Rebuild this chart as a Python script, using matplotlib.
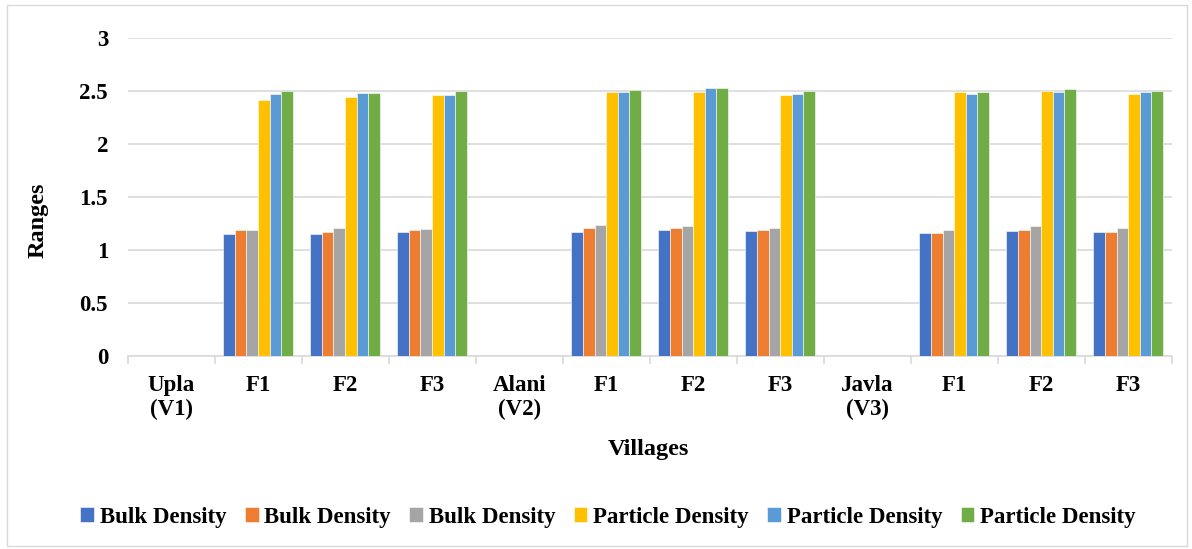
import matplotlib
matplotlib.use("Agg")
import matplotlib.pyplot as plt
import numpy as np
from matplotlib.patches import Rectangle

categories = ["Upla\n(V1)", "F1", "F2", "F3", "Alani\n(V2)", "F1", "F2", "F3",
              "Javla\n(V3)", "F1", "F2", "F3"]
series_names = ["Bulk Density", "Bulk Density", "Bulk Density",
                "Particle Density", "Particle Density", "Particle Density"]
bulk1 = [0, 1.15, 1.15, 1.17, 0, 1.17, 1.19, 1.18, 0, 1.16, 1.18, 1.17]
bulk2 = [0, 1.19, 1.17, 1.19, 0, 1.21, 1.21, 1.19, 0, 1.16, 1.19, 1.17]
bulk3 = [0, 1.19, 1.21, 1.20, 0, 1.24, 1.23, 1.21, 0, 1.19, 1.23, 1.21]
part1 = [0, 2.41, 2.44, 2.46, 0, 2.49, 2.49, 2.46, 0, 2.49, 2.50, 2.47]
part2 = [0, 2.47, 2.48, 2.46, 0, 2.49, 2.53, 2.47, 0, 2.47, 2.49, 2.49]
part3 = [0, 2.50, 2.48, 2.50, 0, 2.51, 2.53, 2.50, 0, 2.49, 2.52, 2.50]
series = [bulk1, bulk2, bulk3, part1, part2, part3]
colors = ["#4472C4", "#ED7D31", "#A5A5A5", "#FFC000", "#5B9BD5", "#70AD47"]
yticks = [0, 0.5, 1, 1.5, 2, 2.5, 3]

plt.rcParams['font.family'] = ['Liberation Serif', 'DejaVu Serif']

fig = plt.figure(figsize=(11.92, 5.49), dpi=100)
ax = fig.add_axes([0.107, 0.3515, 0.876, 0.5795])

x = np.arange(len(categories))
n = len(series)
w = 0.8 / n
for i, (vals, c, name) in enumerate(zip(series, colors, series_names)):
    ax.bar(x - 0.4 + w * (i + 0.5), vals, width=w, color=c, label=name,
           edgecolor="white", linewidth=0.4, zorder=3)

ax.set_xlim(-0.5, len(categories) - 0.5)
ax.set_ylim(0, 3)
ax.set_yticks(yticks)
ax.set_yticklabels([f"{t:g}" for t in yticks], fontsize=16.5, fontweight="bold")
ax.tick_params(axis="y", length=0, pad=14)
ax.grid(axis="y", color="#d9d9d9", linewidth=1.2, zorder=0)

ax.set_xticks(x)
ax.set_xticklabels(categories, fontsize=16.5, fontweight="bold", va="top",
                   linespacing=1.15)
ax.tick_params(axis="x", length=0, pad=14)
ax.set_xticks(np.arange(-0.5, len(categories) + 0.5, 1), minor=True)
ax.tick_params(axis="x", which="minor", length=6, color="#d9d9d9", width=1.2)

for s in ["top", "right", "left"]:
    ax.spines[s].set_visible(False)
ax.spines["bottom"].set_color("#d9d9d9")
ax.spines["bottom"].set_linewidth(1.2)

fig.text(38 / 1192, 1 - 220 / 549, "Ranges", rotation=90, fontsize=17.5,
         fontweight="bold", ha="center", va="center")
fig.text(648 / 1192, 1 - 450 / 549, "Villages", fontsize=17.5,
         fontweight="bold", ha="center", va="center")

leg = fig.legend(loc="center", bbox_to_anchor=(608 / 1192, 1 - 517 / 549), ncol=6,
                 frameon=False, handlelength=0.6, handleheight=0.6,
                 handletextpad=0.25, columnspacing=0.8,
                 prop={"size": 16.5, "weight": "bold"})

fig.patches.append(Rectangle((0.006, 0.006), 0.99, 0.985,
                             transform=fig.transFigure, fill=False,
                             edgecolor="#d9d9d9", linewidth=1))

fig.savefig("out.png", dpi=100)
